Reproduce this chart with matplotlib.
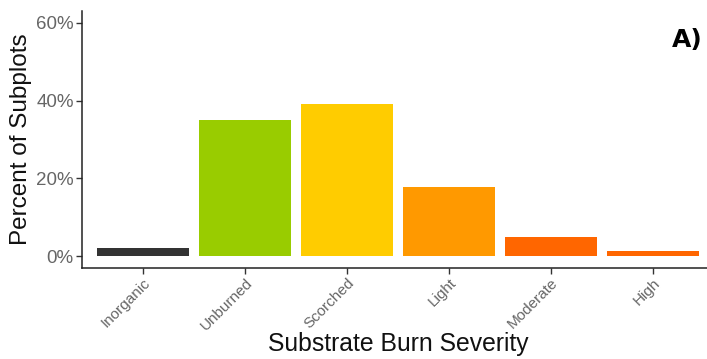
import matplotlib
matplotlib.use("Agg")
import matplotlib.pyplot as plt
from matplotlib.ticker import FuncFormatter

categories = ["Inorganic", "Unburned", "Scorched", "Light", "Moderate", "High"]
percents = [2.0, 35.0, 39.1, 17.8, 5.0, 1.3]
colors = ["#333333", "#99CC00", "#FFCC00", "#FF9900", "#FF6600", "#FF6600"]
yticks = [0, 20, 40, 60]

plt.rcParams['font.family'] = ['Liberation Sans', 'DejaVu Sans']

W, H = 707, 359
fig = plt.figure(figsize=(W / 100, H / 100), dpi=100)
left, right, top, bottom = 82, 714, 11.3, 267.7
ax = fig.add_axes([left / W, 1 - bottom / H, (right - left) / W, (bottom - top) / H])

x = list(range(len(categories)))
ax.bar(x, percents, width=0.9, color=colors, edgecolor="none")

ax.set_xlim(-0.6, 5.6)
ax.set_ylim(-3, 63)
ax.set_yticks(yticks)
ax.yaxis.set_major_formatter(FuncFormatter(lambda v, p: f"{v:.0f}%"))
ax.set_xticks(x)
ax.set_xticklabels(categories, rotation=45, ha="right", rotation_mode="anchor")

for s in ["top", "right"]:
    ax.spines[s].set_visible(False)
for s in ["left", "bottom"]:
    ax.spines[s].set_color("#222222")
    ax.spines[s].set_linewidth(1.1)

ax.tick_params(axis="y", labelsize=13.5, labelcolor="#666666", color="#333333", length=4, width=1, pad=2)
ax.tick_params(axis="x", labelsize=11, labelcolor="#666666", color="#333333", length=4, width=1, pad=2)

ax.set_ylabel("Percent of Subplots", fontsize=17.5, color="#111111", labelpad=3)
ax.set_xlabel("Substrate Burn Severity", fontsize=17.8, color="#111111", labelpad=-1)

fig.text(672 / W, 1 - 40 / H, "A)", fontsize=18, fontweight="bold", family="DejaVu Sans",
         ha="left", va="center", color="black")

fig.savefig("out.png", dpi=100, facecolor="white")
